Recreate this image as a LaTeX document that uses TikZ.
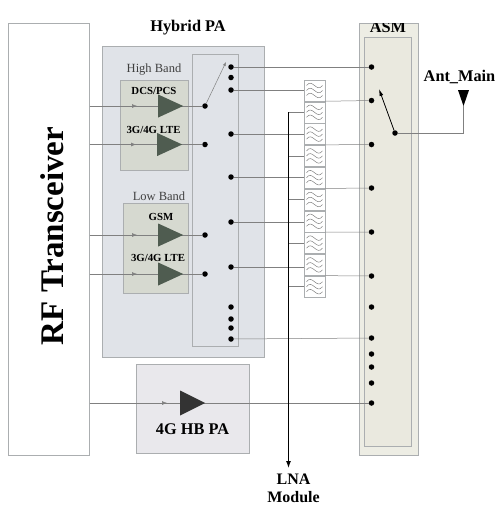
\documentclass[tikz,border=0pt]{standalone}
\usepackage{fontspec}
\setmainfont{Liberation Serif}
\usetikzlibrary{shapes.geometric, arrows.meta, positioning, calc}
\definecolor{palebox}{HTML}{E0E3E8}
\definecolor{bandbox}{HTML}{D6D9D0}
\definecolor{asmbox}{HTML}{E6E5D9}
\definecolor{hbbox}{HTML}{E9E8EC}
\definecolor{ampgreen}{HTML}{4F5C50}
\definecolor{edgegray}{HTML}{ABAEB0}

\begin{document}
\begin{tikzpicture}[
    x=1pt, y=-1pt,
    blockbox/.style={draw=edgegray, line width=0.7pt, anchor=north west, inner sep=0pt},
    dot/.style={circle, fill=black, inner sep=0pt, minimum size=5.5pt},
    sig/.style={draw=gray, line width=0.5pt},
    amp/.style={isosceles triangle, isosceles triangle apex angle=60, isosceles triangle stretches,
        fill=ampgreen, inner sep=0pt, anchor=west, minimum width=23pt, minimum height=25pt},
    filt/.style={draw=edgegray, line width=0.5pt, minimum width=21pt, minimum height=21pt, inner sep=0pt,
        path picture={
            \foreach \d in {-5,0,5}
                \draw[gray, line width=0.5pt] ($(path picture bounding box.center)+(-8,\d)$)
                    .. controls +(6,-8) and +(-6,8) .. ++(16,0);
        }},
    lbl/.style={font=\bfseries\fontsize{10.8}{12}\selectfont, inner sep=0pt},
    title/.style={font=\bfseries\fontsize{16.3}{19}\selectfont, inner sep=0pt},
    band/.style={font=\fontsize{12.5}{14}\selectfont, text=black!75, inner sep=0pt}
]
    \useasboundingbox (0,0) rectangle (500,509);

    % blocks
    \node[blockbox, fill=white, minimum width=81pt, minimum height=432pt] (rf) at (8,23) {};
    \node[blockbox, fill=palebox, minimum width=162pt, minimum height=311pt] (hybrid) at (102,46) {};
    \node[blockbox, fill=palebox, minimum width=46pt, minimum height=292pt] (swbox) at (192,54) {};
    \node[blockbox, fill=bandbox, minimum width=68pt, minimum height=90pt] (high) at (120,80) {};
    \node[blockbox, fill=bandbox, minimum width=65pt, minimum height=90pt] (low) at (123,203) {};
    \node[blockbox, fill=hbbox, minimum width=113pt, minimum height=89pt] (hbpa) at (136,364) {};
    \node[blockbox, fill=asmbox!70!white, minimum width=59pt, minimum height=432pt] (asm) at (359,23) {};
    \node[blockbox, fill=asmbox!85!white, minimum width=47pt, minimum height=409pt] (asmin) at (364,37) {};

    % switch contacts
    \foreach \n/\y in {dcs/106, hlte/144.5, gsm/235, llte/274}
        \node[dot] (in\n) at (205,\y) {};
    \foreach \n/\y in {1/67, 2/77.5, 3/90, 4/134, 5/177, 6/222, 7/267, 8/307, 9/319, 10/328, 11/339}
        \node[dot] (sw\n) at (231,\y) {};
    \foreach \n/\y in {1/67, 2/100.5, 3/144.5, 4/188, 5/232, 6/276, 7/307, 8/338, 9/354, 10/367, 11/383, 12/403}
        \node[dot] (as\n) at (371.5,\y) {};
    \node[dot] (pole) at (395,133) {};

    % filters
    \foreach \i in {1,...,10}
        \node[filt] (f\i) at (314.5,{68.7+21.8*\i}) {};

    % inputs from the transceiver
    \foreach \n/\y/\x in {dcs/106/158, hlte/144.5/157, gsm/235/158, llte/274/158} {
        \coordinate (rf\n) at (rf.east |- in\n);
        \draw[sig] (rf\n) -- (in\n);
        \draw[sig, -{Latex[length=5pt, width=4pt]}] (rf\n) -- (\x-21,\y);
    }
    \coordinate (rfhb) at (rf.east |- as12);
    \draw[sig] (rfhb) -- (as12);
    \draw[sig, -{Latex[length=5pt, width=4pt]}] (rfhb) -- (167,403);

    % amplifiers
    \node[amp] (dcs) at (158,106) {};
    \node[amp] (hlte) at (157,144.5) {};
    \node[amp] (gsm) at (158,235) {};
    \node[amp] (llte) at (158,274) {};
    \node[amp, fill=black!80, minimum height=25pt, minimum width=25pt] (hb) at (180,403) {};

    % switch to filters, filters to ASM
    \draw[sig] (sw1) -- (as1);
    \foreach \s/\f in {3/1, 4/3, 5/5, 6/7, 7/9}
        \draw[sig] (sw\s) -- (sw\s -| f\f.west);
    \foreach \f/\a in {1/2, 3/3, 5/4, 7/5, 9/6}
        \draw[sig] (f\f.south east) -- (as\a);
    \draw[sig] (sw11) -- (as8);

    % LNA bus
    \coordinate (lnatop) at (f2.west -| 288.5,0);
    \coordinate (lnaend) at (288.5,468);
    \foreach \f in {2,4,6,8,10}
        \draw[sig] (f\f.west -| lnatop) -- (f\f.west);
    \draw[line width=1pt, -{Latex[length=7pt, width=5pt]}] (lnatop) -- (lnaend);

    % switch arms and antenna
    \coordinate (armtip) at (226,62);
    \coordinate (poletip) at (379,89);
    \draw[sig, -{Latex[length=4pt, width=3pt]}] (indcs) -- (armtip);
    \draw[line width=0.8pt, -{Latex[length=7pt, width=4pt]}] (pole) -- (poletip);
    \node[isosceles triangle, isosceles triangle apex angle=60, isosceles triangle stretches, shape border rotate=-90,
        fill=black, inner sep=0pt, minimum width=11pt, minimum height=16pt] (ant) at (463.5,94) {};
    \draw[sig] (pole) -| (ant.south);

    % labels
    \node[font=\bfseries\fontsize{33}{36}\selectfont, rotate=90, inner sep=0pt] (rflbl) at (52,236) {RF Transceiver};
    \node[title] (hybridlbl) at (188,28) {Hybrid PA};
    \node[band] (highlbl) at (154,70) {High Band};
    \node[band] (lowlbl) at (159,196) {Low Band};
    \node[lbl] (dcslbl) at (154,91) {DCS/PCS};
    \node[lbl] (hltelbl) at (153.5,130) {3G/4G LTE};
    \node[lbl] (gsmlbl) at (161,217) {GSM};
    \node[lbl] (lltelbl) at (158,258) {3G/4G LTE};
    \node[title] (hblbl) at (192.5,429) {4G HB PA};
    \node[title] (antlbl) at (459.5,77) {Ant\_Main};
    \node[title, align=center, font=\bfseries\fontsize{16}{18}\selectfont] (lnalbl) at (293.5,488) {LNA\\Module};
    \node[title] (asmlbl) at (388,27) {ASM};
    \fill[white] (350,10) rectangle (430,22.5);
\end{tikzpicture}
\end{document}
